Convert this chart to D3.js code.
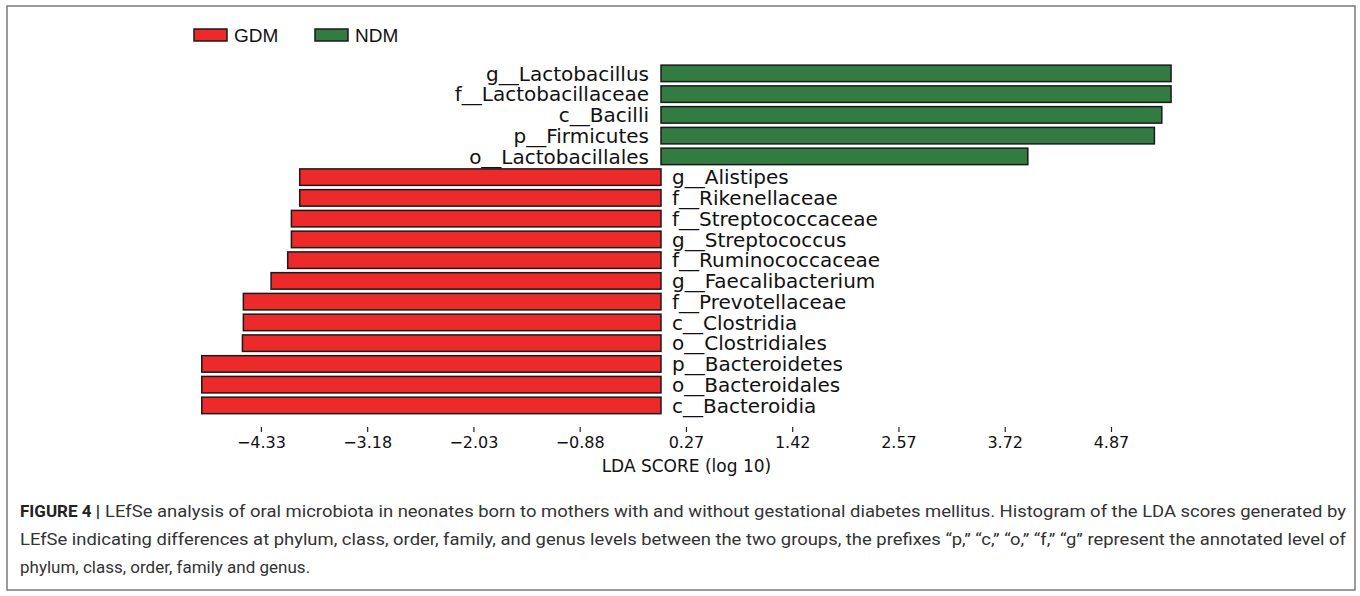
<!DOCTYPE html>
<html><head><meta charset="utf-8">
<script src="https://cdn.jsdelivr.net/npm/d3@7"></script>
<style>
html,body{margin:0;padding:0;background:#fff;}
svg{display:block;}
</style></head>
<body>
<svg id="chart" width="1360" height="596"></svg>
<script>
// ---- data ----
const taxa = ["g__Lactobacillus","f__Lactobacillaceae","c__Bacilli","p__Firmicutes","o__Lactobacillales",
  "g__Alistipes","f__Rikenellaceae","f__Streptococcaceae","g__Streptococcus","f__Ruminococcaceae",
  "g__Faecalibacterium","f__Prevotellaceae","c__Clostridia","o__Clostridiales","p__Bacteroidetes",
  "o__Bacteroidales","c__Bacteroidia"];
const ldaScores = [5.52,5.52,5.42,5.34,3.97,
  -3.91,-3.91,-4.00,-4.00,-4.04,-4.22,-4.52,-4.52,-4.53,-4.97,-4.97,-4.97];
const groups = ["NDM","NDM","NDM","NDM","NDM","GDM","GDM","GDM","GDM","GDM","GDM","GDM","GDM","GDM","GDM","GDM","GDM"];
const legendGroups = ["GDM","NDM"];
const tickValues = [-4.33,-3.18,-2.03,-0.88,0.27,1.42,2.57,3.72,4.87];
const tickLabels = ["\u22124.33","\u22123.18","\u22122.03","\u22120.88","0.27","1.42","2.57","3.72","4.87"];
const xTitle = "LDA SCORE (log 10)";
const captionBold = "FIGURE 4 |";
const captionLines = [
  "LEfSe analysis of oral microbiota in neonates born to mothers with and without gestational diabetes mellitus. Histogram of the LDA scores generated by",
  "LEfSe indicating differences at phylum, class, order, family, and genus levels between the two groups, the prefixes \u201cp,\u201d \u201cc,\u201d \u201co,\u201d \u201cf,\u201d \u201cg\u201d represent the annotated level of",
  "phylum, class, order, family and genus."
];

// ---- drawing ----
const svg = d3.select("#chart");
const color = d3.scaleOrdinal().domain(["GDM","NDM"]).range(["#ec2a2a","#327b41"]);
const chartFont = "'DejaVu Sans', sans-serif";

// frame
svg.append("rect").attr("x",7).attr("y",6).attr("width",1348).attr("height",584)
  .attr("fill","none").attr("stroke","#7a7a7a").attr("stroke-width",1.5);

const x = d3.scaleLinear().domain([0,1]).range([661, 661+92.4]);
const y = d3.scaleBand().domain(taxa).range([63,415.8]).paddingInner(0.205).paddingOuter(0.1025);

const rows = taxa.map((t,i)=>({taxon:t, v:ldaScores[i], g:groups[i]}));

svg.append("g").selectAll("rect").data(rows).join("rect")
  .attr("x", d=>Math.min(x(0), x(d.v)))
  .attr("width", d=>Math.abs(x(d.v)-x(0)))
  .attr("y", d=>y(d.taxon))
  .attr("height", y.bandwidth())
  .attr("fill", d=>color(d.g))
  .attr("stroke","#1a1a1a").attr("stroke-width",1.5);

svg.append("g").selectAll("text").data(rows).join("text")
  .attr("x", d=> d.v>0 ? x(0)-12 : x(0)+11)
  .attr("y", d=>y(d.taxon)+y.bandwidth()/2)
  .attr("dy","0.36em")
  .attr("text-anchor", d=> d.v>0 ? "end" : "start")
  .attr("font-family", chartFont).attr("font-size",20).attr("fill","#111")
  .text(d=>d.taxon);

// axis
const axis = d3.axisBottom(x).tickValues(tickValues).tickFormat((d,i)=>tickLabels[i]).tickSize(5).tickPadding(5);
const ax = svg.append("g").attr("transform","translate(0,427)").call(axis);
ax.select(".domain").remove();
ax.selectAll(".tick line").attr("stroke","#222").attr("stroke-width",1.2);
ax.selectAll(".tick text").attr("font-family",chartFont).attr("font-size",16).attr("fill","#111");

svg.append("text").attr("x",(x(-4.97)+x(5.52))/2).attr("y",472).attr("text-anchor","middle")
  .attr("font-family",chartFont).attr("font-size",17).attr("fill","#111").text(xTitle);

// legend
const lg = svg.append("g");
const legX = [194,315];
legendGroups.forEach((g,i)=>{
  lg.append("rect").attr("x",legX[i]).attr("y",29).attr("width",33).attr("height",12)
    .attr("fill",color(g)).attr("stroke","#1a1a1a").attr("stroke-width",1.5);
  lg.append("text").attr("x",legX[i]+40).attr("y",41.5).attr("font-family","'Liberation Sans', Arial, sans-serif")
    .attr("font-size",19).attr("fill","#111").text(g);
});

// caption
const capFont = "'Liberation Sans Narrow','Roboto','Liberation Sans',sans-serif";
const capY = [517,545,573];
const b = svg.append("text").attr("x",20).attr("y",capY[0]).attr("font-family",capFont)
  .attr("font-weight","bold").attr("font-size",17).attr("fill","#222").text(captionBold);
const bw = b.node().getComputedTextLength();
captionLines.forEach((line,i)=>{
  const sx = i===0 ? 20+bw+5 : 20;
  const t = svg.append("text").attr("x",sx).attr("y",capY[i]).attr("font-family",capFont)
    .attr("font-size",17).attr("fill","#333").text(line);
  if(i<2) t.attr("textLength",1346-sx).attr("lengthAdjust","spacingAndGlyphs");
});
</script>
</body></html>
